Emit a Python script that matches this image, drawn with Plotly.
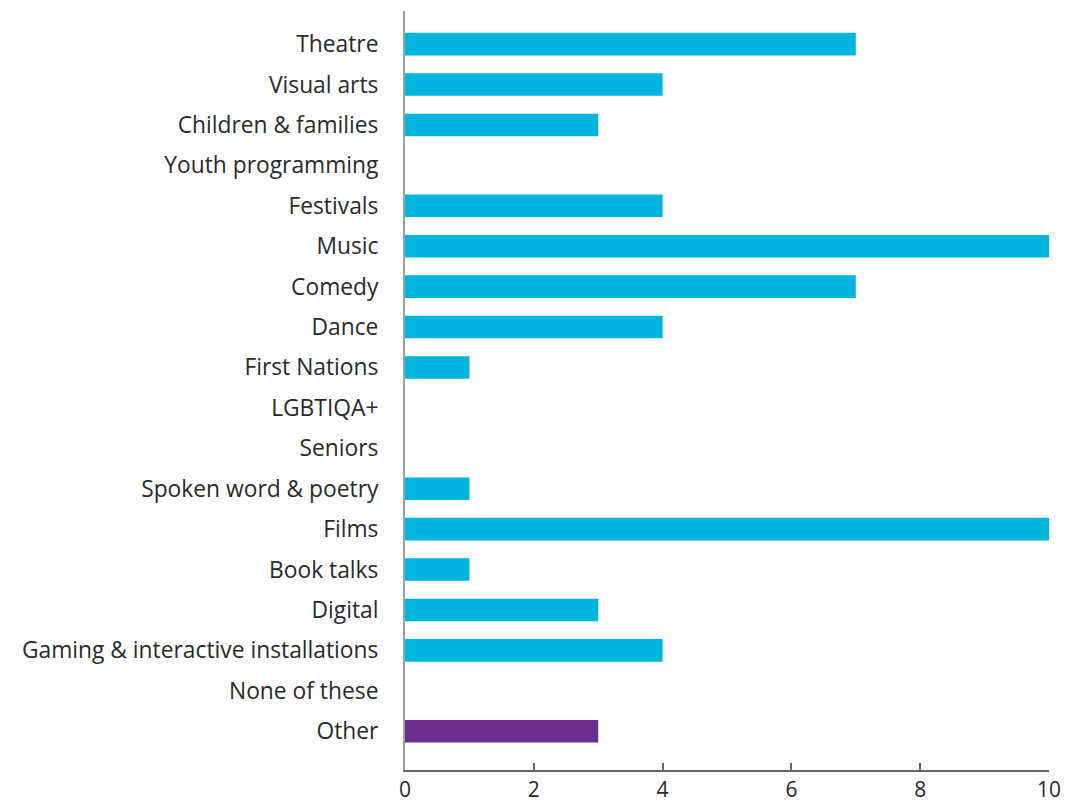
import plotly.graph_objects as go

categories = [
    "Theatre", "Visual arts", "Children & families", "Youth programming",
    "Festivals", "Music", "Comedy", "Dance", "First Nations", "LGBTIQA+",
    "Seniors", "Spoken word & poetry", "Films", "Book talks", "Digital",
    "Gaming & interactive installations", "None of these", "Other",
]
counts = [7, 4, 3, 0, 4, 10, 7, 4, 1, 0, 0, 1, 10, 1, 3, 4, 0, 3]
bar_colors = ["#00b5dd"] * (len(categories) - 1) + ["#6b2d8f"]

positions = list(range(len(categories)))

fig = go.Figure(
    go.Bar(
        x=counts,
        y=positions,
        orientation="h",
        marker=dict(color=bar_colors, line=dict(width=0)),
        width=0.56,
        hoverinfo="skip",
    )
)

fig.update_layout(
    width=1065,
    height=809,
    margin=dict(l=405, r=16, t=11, b=39),
    paper_bgcolor="white",
    plot_bgcolor="white",
    font=dict(family="Open Sans, sans-serif", size=21, color="#2a2a2a"),
    showlegend=False,
)

fig.update_xaxes(
    range=[0, 10],
    tickvals=[0, 2, 4, 6, 8, 10],
    ticks="inside",
    ticklen=7,
    tickwidth=1.5,
    tickcolor="#666666",
    showline=True,
    linecolor="#666666",
    linewidth=1.5,
    showgrid=False,
    zeroline=False,
    automargin=False,
    ticklabelstandoff=0,
    tickfont=dict(size=21),
)

fig.update_yaxes(
    range=[17.96, -0.82],
    tickvals=positions,
    ticktext=categories,
    ticks="",
    showline=True,
    linecolor="#a0a0a0",
    linewidth=2,
    showgrid=False,
    zeroline=False,
    automargin=False,
    ticklabelstandoff=20,
    tickfont=dict(size=22.8),
)

fig.write_html("out.html")
